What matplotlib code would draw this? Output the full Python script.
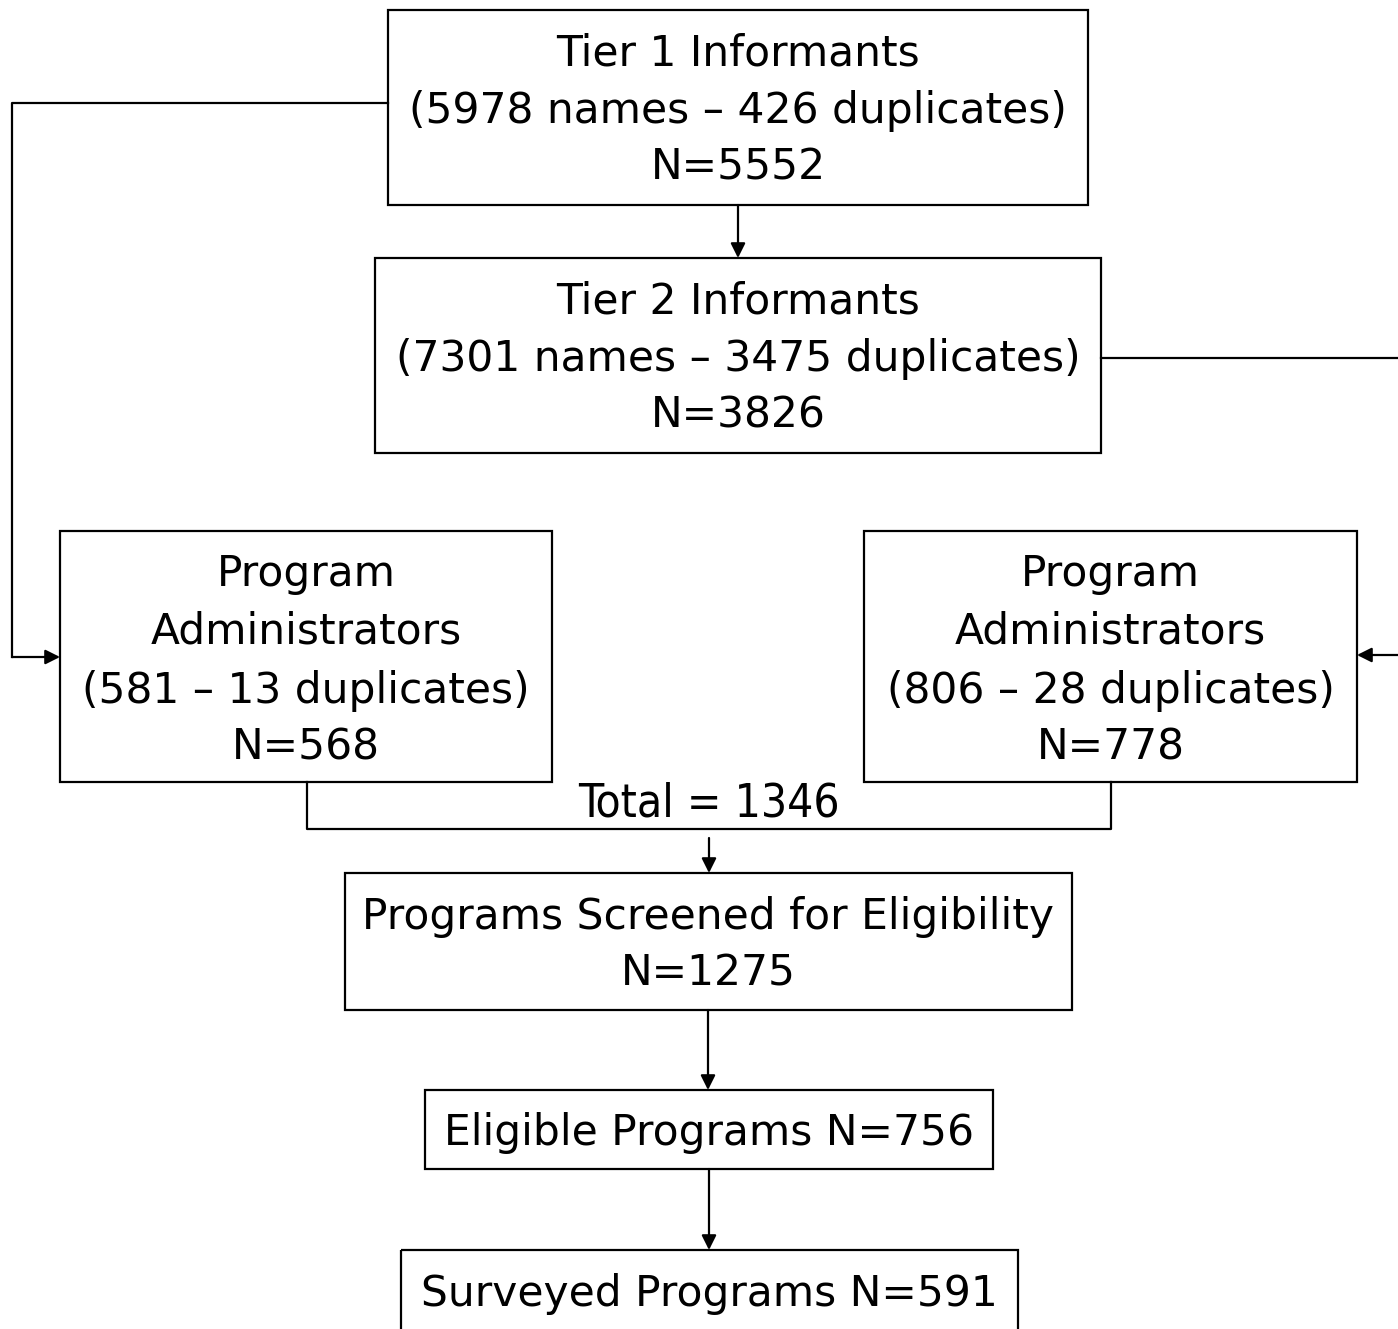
import matplotlib.pyplot as plt
from matplotlib.patches import Rectangle

# counts from the flowchart
tier1_names, tier1_dups = 5978, 426
tier2_names, tier2_dups = 7301, 3475
admin_left_names, admin_left_dups = 581, 13
admin_right_names, admin_right_dups = 806, 28
screened_n = 1275
eligible_n = 756
surveyed_n = 591

tier1_n = tier1_names - tier1_dups
tier2_n = tier2_names - tier2_dups
admin_left_n = admin_left_names - admin_left_dups
admin_right_n = admin_right_names - admin_right_dups
total_n = admin_left_n + admin_right_n

W, H = 1398, 1329
fig = plt.figure(figsize=(W / 100, H / 100), dpi=100)
ax = fig.add_axes([0, 0, 1, 1])
ax.set_xlim(0, W)
ax.set_ylim(H, 0)
ax.axis('off')

LW = 1.6
FS = 30.5
FONT = ['DejaVu Sans']


def box(x0, y0, x1, y1, lines, ys):
    ax.add_patch(Rectangle((x0, y0), x1 - x0, y1 - y0, fill=False, lw=LW, ec='black'))
    cx = (x0 + x1) / 2
    for t, y in zip(lines, ys):
        ax.text(cx, y, t, ha='center', va='center', fontsize=FS, family=FONT)


def arrow(x0, y0, x1, y1):
    ax.annotate('', xy=(x1, y1), xytext=(x0, y0),
                arrowprops=dict(arrowstyle='-|>', color='black', lw=LW,
                                mutation_scale=22, shrinkA=0, shrinkB=0))


box(388, 10, 1088, 205,
    ['Tier 1 Informants', f'({tier1_names} names \u2013 {tier1_dups} duplicates)', f'N={tier1_n}'],
    [53, 111, 168])
arrow(738, 205, 738, 258)
box(375, 258, 1101, 453,
    ['Tier 2 Informants', f'({tier2_names} names \u2013 {tier2_dups} duplicates)', f'N={tier2_n}'],
    [301, 359, 416])

box(60, 531, 552, 782,
    ['Program', 'Administrators', f'({admin_left_names} \u2013 {admin_left_dups} duplicates)', f'N={admin_left_n}'],
    [574, 631, 691, 747])
box(864, 531, 1357, 782,
    ['Program', 'Administrators', f'({admin_right_names} \u2013 {admin_right_dups} duplicates)', f'N={admin_right_n}'],
    [574, 631, 691, 747])

# side connectors
ax.plot([388, 12, 12], [103, 103, 657], color='black', lw=LW)
arrow(12, 657, 60, 657)
ax.plot([1101, 1410], [358, 358], color='black', lw=LW)
arrow(1410, 655, 1357, 655)

# total bracket
ax.plot([307, 307, 1111, 1111], [782, 829, 829, 782], color='black', lw=LW)
ax.text(709, 804, f'Total = {total_n}', ha='center', va='center', fontsize=33,
        family=['DejaVu Sans'], fontstretch='condensed')
arrow(709, 838, 709, 873)

box(345, 873, 1072, 1010,
    ['Programs Screened for Eligibility', f'N={screened_n}'], [917, 974])
arrow(708, 1010, 708, 1090)
box(425, 1090, 993, 1169, [f'Eligible Programs N={eligible_n}'], [1133])
arrow(709, 1169, 709, 1250)
box(401, 1250, 1018, 1360, [f'Surveyed Programs N={surveyed_n}'], [1294])

fig.savefig('out.png', dpi=100)
